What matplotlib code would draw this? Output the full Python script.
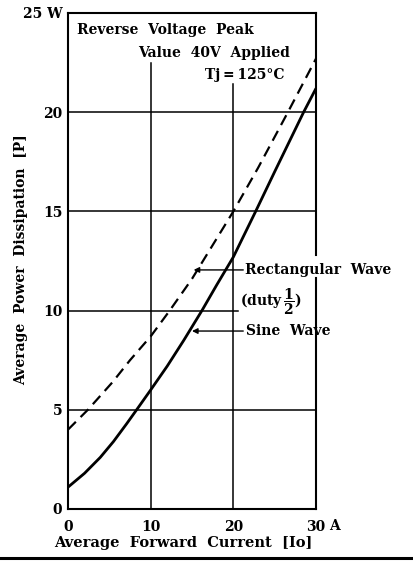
import matplotlib
matplotlib.use("Agg")
import matplotlib.pyplot as plt
from matplotlib.lines import Line2D

# ---- data ----
sine_x = [0, 2, 3.9, 5.5, 7.1, 8.3, 10, 12, 14, 16.2, 18, 20, 22.7, 25, 28.5, 30]
sine_y = [1.1, 1.8, 2.6, 3.4, 4.3, 5.0, 6.0, 7.2, 8.5, 10.0, 11.3, 12.7, 15.0, 17.0, 20.0, 21.2]
rect_x = [0, 2.4, 5.4, 7.5, 10, 12.3, 15, 17.5, 20, 23, 26.6, 30]
rect_y = [4.0, 5.0, 6.4, 7.5, 8.7, 10.0, 11.6, 13.3, 15.0, 17.2, 20.0, 22.7]
x_ticks = [0, 10, 20, 30]
x_tick_labels = ["0", "10", "20", "30"]
y_ticks = [0, 5, 10, 15, 20, 25]
y_tick_labels = ["0", "5", "10", "15", "20", "25 W"]

FONT = "DejaVu Serif"
plt.rcParams["font.family"] = [FONT]
plt.rcParams["font.weight"] = "bold"
plt.rcParams["mathtext.fontset"] = "custom"
plt.rcParams["mathtext.rm"] = FONT + ":bold"
plt.rcParams["mathtext.it"] = FONT + ":bold"
plt.rcParams["mathtext.bf"] = FONT + ":bold"

W, H = 413, 564
fig = plt.figure(figsize=(W / 100, H / 100), dpi=100)
L, R, T, B = 68, 316, 13, 509
ax = fig.add_axes([L / W, (H - B) / H, (R - L) / W, (B - T) / H])
ax.set_xlim(0, 30)
ax.set_ylim(0, 25)

fs = 10

# grid lines (partial, as in the original)
glw = 1.1
ax.plot([0, 30], [20, 20], color="black", lw=glw, zorder=1)
ax.plot([0, 30], [15, 15], color="black", lw=glw, zorder=1)
ax.plot([0, 20.6], [10, 10], color="black", lw=glw, zorder=1)
ax.plot([0, 30], [5, 5], color="black", lw=glw, zorder=1)
ax.plot([10, 10], [0, 22.5], color="black", lw=glw, zorder=1)
ax.plot([20, 20], [0, 21.4], color="black", lw=glw, zorder=1)

# curves
ax.plot(sine_x, sine_y, color="black", lw=2.0, solid_capstyle="butt",
        solid_joinstyle="round", zorder=3)
ax.plot(rect_x, rect_y, color="black", lw=1.6, dashes=(5, 3.0), zorder=3)

# spines
for s in ["left", "top", "bottom"]:
    ax.spines[s].set_linewidth(1.5)
ax.spines["right"].set_visible(False)
ax.plot([30, 30], [0, 11.65], color="black", lw=1.5, clip_on=False, zorder=2)
ax.plot([30, 30], [12.8, 25], color="black", lw=1.5, clip_on=False, zorder=2)

# ticks
ax.set_xticks(x_ticks)
ax.set_xticklabels(x_tick_labels, fontsize=fs, fontweight="bold")
ax.set_yticks(y_ticks)
ax.set_yticklabels(y_tick_labels, fontsize=fs, fontweight="bold")
ax.tick_params(length=0, pad=4)
ax.tick_params(axis="x", pad=8)
ax.text(32.2, -0.85, "A", fontsize=fs, fontweight="bold", ha="center", va="center",
        clip_on=False)

# condition text
ax.text(1.1, 24.15, "Reverse  Voltage  Peak", fontsize=fs, fontweight="bold",
        ha="left", va="center")
ax.text(26.8, 23.0, "Value  40V  Applied", fontsize=fs, fontweight="bold",
        ha="right", va="center")
ax.text(26.2, 21.9, "Tj\u2009=\u2009125\u00b0C", fontsize=fs, fontweight="bold",
        ha="right", va="center")

# curve labels with arrows
ax.annotate("", xy=(15.2, 12.05), xytext=(21.2, 12.05),
            arrowprops=dict(arrowstyle="-|>", lw=1.0, color="black",
                            mutation_scale=8, shrinkA=0, shrinkB=0))
ax.text(21.4, 12.05, "Rectangular  Wave", fontsize=fs, fontweight="bold",
        ha="left", va="center", clip_on=False)
ax.text(20.8, 10.45, r"(duty$\,\dfrac{1}{2}$)", fontsize=fs, fontweight="bold",
        ha="left", va="center", clip_on=False)
ax.annotate("", xy=(15.0, 8.97), xytext=(21.2, 8.97),
            arrowprops=dict(arrowstyle="-|>", lw=1.0, color="black",
                            mutation_scale=8, shrinkA=0, shrinkB=0))
ax.text(21.5, 8.97, "Sine  Wave", fontsize=fs, fontweight="bold",
        ha="left", va="center", clip_on=False)

# axis labels
fig.text(21 / W, 1 - 260 / H, "Average  Power  Dissipation  [P]", rotation=90,
         fontsize=fs, fontweight="bold", ha="center", va="center")
fig.text(183 / W, 1 - 543 / H, "Average  Forward  Current  [Io]",
         fontsize=10.5, fontweight="bold", ha="center", va="center")

# bottom rule
fig.add_artist(Line2D([0, 1], [1 - 557.5 / H, 1 - 557.5 / H], color="black", lw=2.2,
                      transform=fig.transFigure))

fig.savefig("out.png", dpi=100)
